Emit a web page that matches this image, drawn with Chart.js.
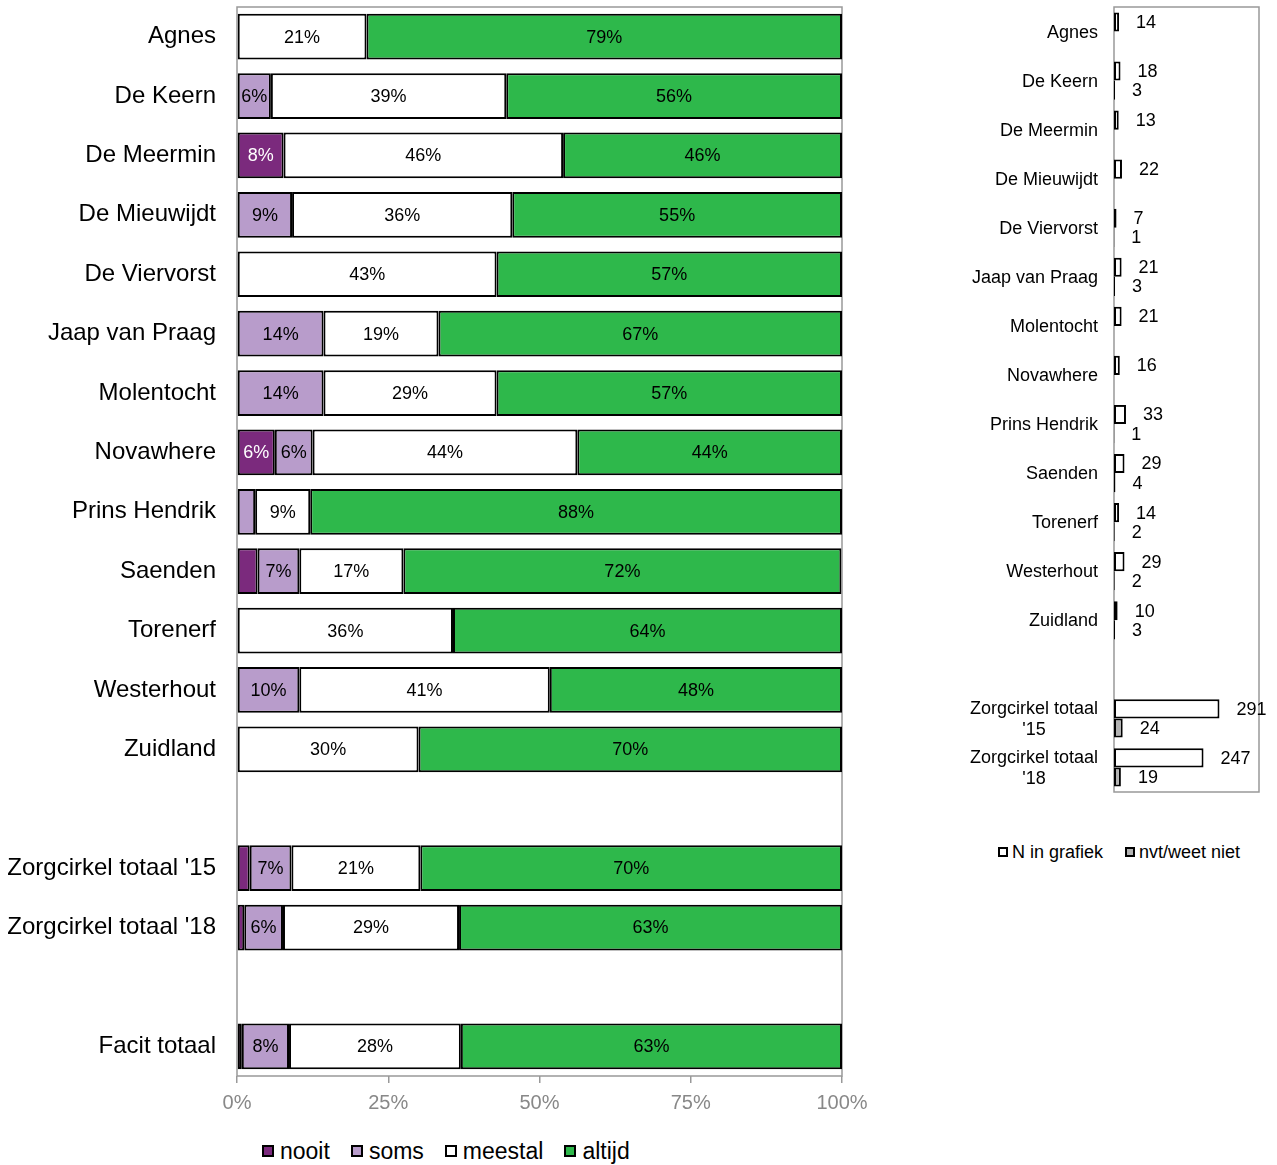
<!DOCTYPE html>
<html>
<head>
<meta charset="utf-8">
<script src="https://cdn.jsdelivr.net/npm/chart.js@4/dist/chart.umd.min.js"></script>
<style>
  html, body { margin: 0; padding: 0; background: #fff; overflow: hidden; }
  body { width: 1277px; height: 1165px; position: relative; font-family: "Liberation Sans", Arial, sans-serif; }
  #leftChart { position: absolute; left: 0; top: 0; }
  #rightChart { position: absolute; left: 880px; top: 0; }
  .legend { position: absolute; display: flex; align-items: center; color: #000; white-space: nowrap; }
  .legend .item { display: flex; align-items: center; }
  .legend .box { box-sizing: border-box; border: 2px solid #000; }
  #leftLegend { left: 262px; top: 1137px; height: 28px; font-size: 23px; }
  #leftLegend .item { margin-right: 21px; }
  #leftLegend .box { width: 12px; height: 12px; margin-right: 6px; }
  #rightLegend { left: 998px; top: 841px; height: 22px; font-size: 18px; }
  #rightLegend .item { margin-right: 22px; }
  #rightLegend .box { width: 10px; height: 10px; margin-right: 4px; }
</style>
</head>
<body>
<canvas id="leftChart" width="880" height="1120"></canvas>
<canvas id="rightChart" width="397" height="800"></canvas>
<div id="leftLegend" class="legend"></div>
<div id="rightLegend" class="legend"></div>
<script>
// left chart: share per answer (percent)
const categories = ["Agnes", "De Keern", "De Meermin", "De Mieuwijdt", "De Viervorst", "Jaap van Praag",
    "Molentocht", "Novawhere", "Prins Hendrik", "Saenden", "Torenerf", "Westerhout", "Zuidland",
    "", "Zorgcirkel totaal '15", "Zorgcirkel totaal '18", "", "Facit totaal"];
const nooit   = [0, 0, 7.7, 0, 0, 0, 0, 6.25, 0, 3.4, 0, 0, 0, null, 2.1, 1.2, null, 0.8];
const soms    = [0, 5.6, 0, 9.1, 0, 14.3, 14.3, 6.25, 3.0, 6.9, 0, 10.3, 0, null, 6.9, 6.4, null, 7.8];
const meestal = [21.4, 38.9, 46.2, 36.4, 42.9, 19.0, 28.6, 43.75, 9.1, 17.2, 35.7, 41.4, 30, null, 21.3, 29.1, null, 28.4];
const altijd  = [78.6, 55.5, 46.1, 54.5, 57.1, 66.7, 57.1, 43.75, 87.9, 72.4, 64.3, 48.3, 70, null, 69.7, 63.3, null, 63.0];
const xTicks = [0, 25, 50, 75, 100];

// right chart: counts
const nCategories = ["Agnes", "De Keern", "De Meermin", "De Mieuwijdt", "De Viervorst", "Jaap van Praag",
    "Molentocht", "Novawhere", "Prins Hendrik", "Saenden", "Torenerf", "Westerhout", "Zuidland",
    "", ["Zorgcirkel totaal", "'15"], ["Zorgcirkel totaal", "'18"]];
const nInGrafiek = [14, 18, 13, 22, 7, 21, 21, 16, 33, 29, 14, 29, 10, null, 291, 247];
const nvtWeetNiet = [0, 3, 0, 0, 1, 3, 0, 0, 1, 4, 2, 2, 3, null, 24, 19];

const FONT = "'Liberation Sans', Arial, sans-serif";
const answerColors = ["#7b2a7d", "#b89ccb", "#ffffff", "#2eb84b"];
const answerNames = ["nooit", "soms", "meestal", "altijd"];

// gray frame around the plot area, drawn under the bars
const frame = {
    id: "frame",
    beforeDatasetsDraw(chart) {
        const a = chart.chartArea;
        const ctx = chart.ctx;
        ctx.save();
        ctx.strokeStyle = "#999";
        ctx.lineWidth = 1.5;
        ctx.strokeRect(a.left, a.top, a.right - a.left, a.bottom - a.top);
        ctx.restore();
    }
};

const pctLabels = {
    id: "pctLabels",
    afterDatasetsDraw(chart) {
        const ctx = chart.ctx;
        ctx.save();
        ctx.font = "18px " + FONT;
        ctx.textAlign = "center";
        ctx.textBaseline = "middle";
        chart.data.datasets.forEach((ds, di) => {
            chart.getDatasetMeta(di).data.forEach((el, i) => {
                const v = ds.data[i];
                if (v == null || v < 5) return;
                ctx.fillStyle = di === 0 ? "#fff" : "#000";
                ctx.fillText(Math.round(v) + "%", (el.x + el.base) / 2, el.y + 1);
            });
        });
        ctx.restore();
    }
};

new Chart(document.getElementById("leftChart"), {
    type: "bar",
    data: {
        labels: categories,
        datasets: [nooit, soms, meestal, altijd].map((d, i) => ({
            label: answerNames[i],
            data: d,
            backgroundColor: answerColors[i],
            borderColor: "#000",
            borderWidth: c => (c.raw ? 2 : 0),
            borderSkipped: false,
            categoryPercentage: 1,
            barPercentage: 0.77
        }))
    },
    options: {
        indexAxis: "y",
        responsive: false,
        animation: false,
        layout: { padding: { top: 7, right: 38, bottom: 0, left: 0 } },
        plugins: { legend: { display: false }, tooltip: { enabled: false } },
        scales: {
            x: {
                stacked: true,
                min: 0,
                max: 100,
                afterBuildTicks: s => { s.ticks = xTicks.map(v => ({ value: v })); },
                ticks: { callback: v => v + "%", color: "#888", font: { family: FONT, size: 20 }, padding: 8, maxRotation: 0 },
                grid: { drawOnChartArea: false, drawTicks: true, tickLength: 7, color: "#999", lineWidth: 1.5 },
                border: { display: false },
                afterFit: s => { s.height = 44; s.paddingLeft = 0; s.paddingRight = 0; }
            },
            y: {
                stacked: true,
                ticks: { color: "#000", font: { family: FONT, size: 24 }, padding: 21, autoSkip: false },
                grid: { display: false, drawTicks: false },
                border: { display: false },
                afterFit: s => { s.width = 237; s.paddingTop = 0; s.paddingBottom = 0; }
            }
        }
    },
    plugins: [frame, pctLabels]
});

const countLabels = {
    id: "countLabels",
    afterDatasetsDraw(chart) {
        const ctx = chart.ctx;
        ctx.save();
        ctx.font = "18px " + FONT;
        ctx.fillStyle = "#000";
        ctx.textAlign = "left";
        ctx.textBaseline = "middle";
        chart.data.datasets.forEach((ds, di) => {
            chart.getDatasetMeta(di).data.forEach((el, i) => {
                const v = ds.data[i];
                if (!v) return;
                ctx.fillText(String(v), el.x + 17, el.y + 1);
            });
        });
        // category labels, right aligned block with centred lines
        const y = chart.scales.y;
        const right = chart.chartArea.left - 16;
        nCategories.forEach((lab, i) => {
            const lines = Array.isArray(lab) ? lab : [lab];
            const w = Math.max(...lines.map(l => ctx.measureText(l).width));
            const cy = y.getPixelForValue(i);
            ctx.textAlign = "center";
            lines.forEach((l, k) => {
                ctx.fillText(l, right - w / 2, cy + (k - (lines.length - 1) / 2) * 21 + 1);
            });
        });
        ctx.restore();
    }
};

new Chart(document.getElementById("rightChart"), {
    type: "bar",
    data: {
        labels: nCategories,
        datasets: [
            { label: "N in grafiek", data: nInGrafiek, backgroundColor: "#fff" },
            { label: "nvt/weet niet", data: nvtWeetNiet, backgroundColor: "#b3b3b3" }
        ].map(ds => Object.assign(ds, {
            borderColor: "#000",
            borderWidth: c => (c.raw ? 2 : 0),
            borderSkipped: false,
            categoryPercentage: 0.78,
            barPercentage: 1
        }))
    },
    options: {
        indexAxis: "y",
        responsive: false,
        animation: false,
        layout: { padding: { top: 7, right: 18, bottom: 8, left: 0 } },
        plugins: { legend: { display: false }, tooltip: { enabled: false } },
        scales: {
            x: { min: 0, max: 400, display: false },
            y: {
                ticks: { display: false },
                grid: { display: false },
                border: { display: false },
                afterFit: s => { s.width = 234; }
            }
        }
    },
    plugins: [frame, countLabels]
});

// html legends
function buildLegend(el, names, colors) {
    names.forEach((n, i) => {
        const item = document.createElement("div");
        item.className = "item";
        const box = document.createElement("span");
        box.className = "box";
        box.style.background = colors[i];
        const txt = document.createElement("span");
        txt.textContent = n;
        item.appendChild(box);
        item.appendChild(txt);
        el.appendChild(item);
    });
}
buildLegend(document.getElementById("leftLegend"), answerNames, answerColors);
buildLegend(document.getElementById("rightLegend"), ["N in grafiek", "nvt/weet niet"], ["#fff", "#b3b3b3"]);
</script>
</body>
</html>
